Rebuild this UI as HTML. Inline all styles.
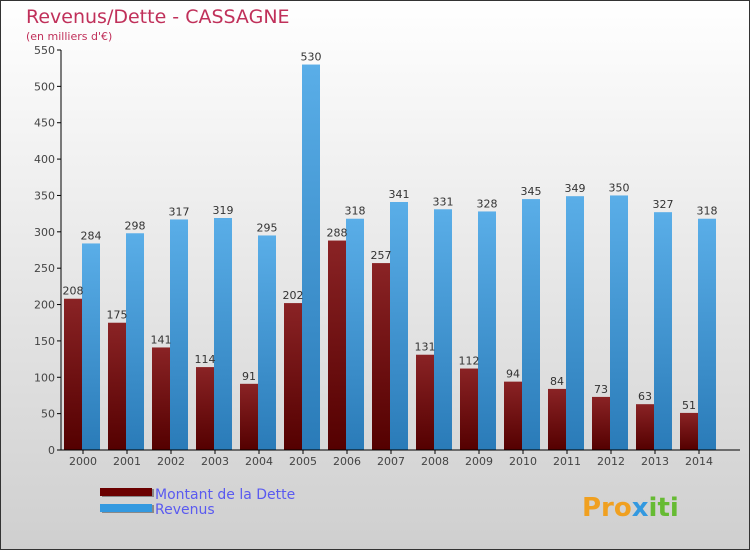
<!DOCTYPE html>
<html><head><meta charset="utf-8"><style>
body{margin:0;width:750px;height:550px;overflow:hidden;font-family:"DejaVu Sans","Liberation Sans",sans-serif;}
</style></head><body>
<svg width="750" height="550" viewBox="0 0 750 550" xmlns="http://www.w3.org/2000/svg">
<defs>
<linearGradient id="bg" x1="0" y1="0" x2="0" y2="1"><stop offset="0" stop-color="#ffffff"/><stop offset="1" stop-color="#cfcfcf"/></linearGradient>
<linearGradient id="gr" x1="0" y1="0" x2="0" y2="1"><stop offset="0" stop-color="#8a2325"/><stop offset="1" stop-color="#540000"/></linearGradient>
<linearGradient id="gb" x1="0" y1="0" x2="0" y2="1"><stop offset="0" stop-color="#5aaee8"/><stop offset="1" stop-color="#2a7bb8"/></linearGradient>
</defs>
<rect x="0.5" y="0.5" width="749" height="549" fill="url(#bg)" stroke="#333"/>
<text x="26" y="23" font-size="19" fill="#c0305a">Revenus/Dette - CASSAGNE</text>
<text x="26" y="40" font-size="11" fill="#c0305a">(en milliers d'€)</text>
<g id="plot"></g>
<g>
<rect x="102" y="489" width="52" height="8" fill="#888"/>
<rect x="100" y="488" width="52" height="8" fill="#6b0000"/>
<text x="155" y="499" font-size="14" fill="#5a5af0">Montant de la Dette</text>
<rect x="102" y="505" width="52" height="8" fill="#888"/>
<rect x="100" y="504" width="52" height="8" fill="#3399e0"/>
<text x="155" y="514" font-size="14" fill="#5a5af0">Revenus</text>
</g>
<text x="582" y="516" font-size="26" font-weight="bold" fill="#f0a020">Pro<tspan fill="#3399e0">x</tspan><tspan fill="#66bb33">iti</tspan></text>
</svg>
<script>
const years=["2000","2001","2002","2003","2004","2005","2006","2007","2008","2009","2010","2011","2012","2013","2014"];
const dette=[208,175,141,114,91,202,288,257,131,112,94,84,73,63,51];
const revenus=[284,298,317,319,295,530,318,341,331,328,345,349,350,327,318];
const yTicks=[0,50,100,150,200,250,300,350,400,450,500,550];
const NS="http://www.w3.org/2000/svg";
const g=document.getElementById('plot');
const y0=450,yScale=400/550;
function yPos(v){return y0-v*yScale;}
function xCenter(i){return 83+44*i;}
function mk(tag,attrs,txt){const e=document.createElementNS(NS,tag);for(const k in attrs)e.setAttribute(k,attrs[k]);if(txt!==undefined)e.textContent=txt;g.appendChild(e);return e;}
yTicks.forEach(t=>{
  const l=mk('line',{x1:57,x2:61,y1:yPos(t),y2:yPos(t),stroke:'#000'});
  
  
  const tx=mk('text',{x:55,y:yPos(t)+4,'font-size':11,fill:'#444','text-anchor':'end'},String(t));
  
  
});
years.forEach((yr,i)=>{
  const c=xCenter(i);
  const rd=mk('rect',{x:c-19,y:yPos(dette[i]),width:18,height:dette[i]*yScale,fill:'url(#gr)'});
  
  
  const rb=mk('rect',{x:c-1,y:yPos(revenus[i]),width:18,height:revenus[i]*yScale,fill:'url(#gb)'});
  
  
  const ld=mk('text',{x:c-10,y:yPos(dette[i])-4,'font-size':11,fill:'#333','text-anchor':'middle'},String(dette[i]));
  
  
  const lb=mk('text',{x:c+8,y:yPos(revenus[i])-4,'font-size':11,fill:'#333','text-anchor':'middle'},String(revenus[i]));
  
  
  const tk=mk('line',{x1:c,x2:c,y1:450,y2:454,stroke:'#000'});
  
  
  const xl=mk('text',{x:c,y:465,'font-size':11,fill:'#444','text-anchor':'middle'},yr);
  
  
});
const ya=mk('line',{x1:61,x2:61,y1:50,y2:450,stroke:'#000'});


const xa=mk('line',{x1:61,x2:740,y1:450,y2:450,stroke:'#000'});


</script>
</body></html>
